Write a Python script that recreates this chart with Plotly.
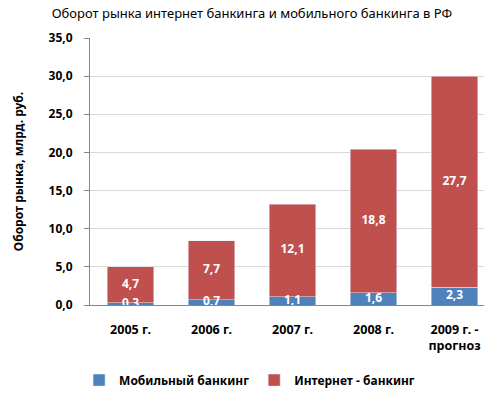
import plotly.graph_objects as go

categories = ["2005 г.", "2006 г.", "2007 г.", "2008 г.", "2009 г. -<br>прогноз"]
mobile = [0.3, 0.7, 1.1, 1.6, 2.3]
internet = [4.7, 7.7, 12.1, 18.8, 27.7]
yticks = [0, 5, 10, 15, 20, 25, 30, 35]

BLUE = "#4F81BD"
RED = "#C0504D"
FONT = "Noto Sans"

def fmt(v):
    return f"{v:.1f}".replace(".", ",")

fig = go.Figure()
fig.add_bar(x=categories, y=mobile, name="Мобильный банкинг", marker_color=BLUE, width=0.57)
fig.add_bar(x=categories, y=internet, name="Интернет - банкинг", marker_color=RED, width=0.57)

fig.add_scatter(x=categories, y=[m / 2 for m in mobile], mode="text",
                text=[fmt(v) for v in mobile], textfont=dict(color="white", size=12, family=FONT, weight="bold"),
                showlegend=False, hoverinfo="skip")
fig.add_scatter(x=categories, y=[m + i / 2 for m, i in zip(mobile, internet)], mode="text",
                text=[fmt(v) for v in internet], textfont=dict(color="white", size=12, family=FONT, weight="bold"),
                showlegend=False, hoverinfo="skip")

fig.update_layout(
    width=492, height=398,
    barmode="stack",
    separators=", ",
    paper_bgcolor="white", plot_bgcolor="white",
    margin=dict(l=90, r=8, t=38, b=93, autoexpand=False),
    font=dict(family=FONT, color="black"),
    title=dict(text="Оборот рынка интернет банкинга и мобильного банкинга в РФ",
               x=0.512, xanchor="center", y=0.965, yanchor="middle",
               font=dict(size=13, family=FONT, color="black")),
    legend=dict(orientation="h", x=0.405, xanchor="center", yref="container", y=0.045, yanchor="middle",
                font=dict(size=12, family=FONT, weight="bold"), itemwidth=30,
                traceorder="normal"),
    showlegend=True,
)
fig.update_xaxes(range=[-0.5, 4.364], showline=True, linecolor="#868686", linewidth=1,
                 ticks="", ticklabelstandoff=13,
                 tickfont=dict(size=12.5, family=FONT, weight="bold"), showgrid=False)
fig.update_yaxes(range=[0, 35], tickvals=yticks, tickformat=".1f", showgrid=True,
                 gridcolor="#D9D9D9", showline=True, linecolor="#868686", linewidth=1,
                 ticks="outside", ticklen=5, tickcolor="#868686", ticklabelstandoff=9,
                 tickfont=dict(size=12, family=FONT, weight="bold"),
                 title=dict(text="Оборот рынка, млрд. руб.", font=dict(size=12, family=FONT, weight="bold"), standoff=22),
                 zeroline=False)

fig.write_html("out.html", config={"displayModeBar": False},
               post_script="document.body.style.margin='0';document.body.style.padding='0';")
